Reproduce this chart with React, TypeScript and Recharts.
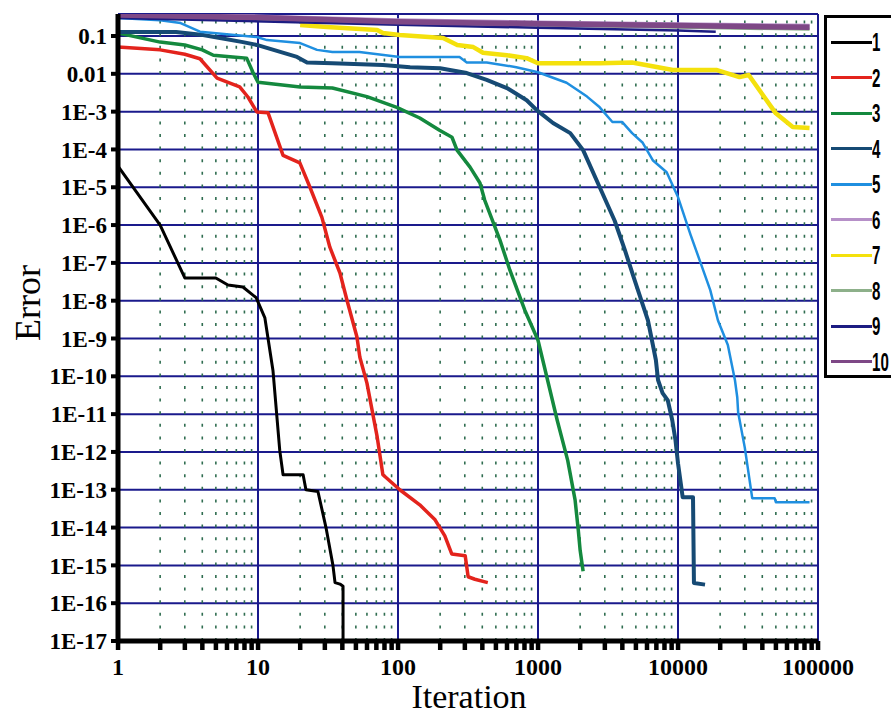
import { LineChart, Line, XAxis, YAxis, CartesianGrid, ReferenceLine, Legend } from 'recharts'

// iteration (x) / error (y) pairs
const it1  = [1, 2, 3, 5, 6.1, 7.8, 9.7, 11.2, 12.8, 14.3, 15.1, 21, 22, 26.8, 30.6, 34.3, 35.5, 38.5, 40.5, 40.5]
const err1 = [3.6e-5, 1e-6, 4e-8, 4e-8, 2.6e-8, 2.3e-8, 1.2e-8, 3.5e-9, 1.4e-10, 1.1e-12, 2.5e-13, 2.5e-13, 1e-13, 9e-14, 1e-14, 1e-15, 3.5e-16, 3.2e-16, 2.8e-16, 1e-17]

const it2  = [1, 2, 3, 3.85, 5.1, 7.4, 8.5, 9.8, 11.8, 15.1, 19.9, 23.5, 28.6, 32.6, 38.5, 43.3, 50.9, 53.4, 60, 71, 78, 103, 143, 184, 216, 242, 302, 317, 354, 438]
const err2 = [0.051, 0.043, 0.033, 0.025, 0.0077, 0.0045, 0.0024, 0.00098, 0.00093, 7e-5, 4.4e-5, 1e-5, 1.6e-6, 2.6e-7, 5.4e-8, 1e-8, 1.1e-9, 3.2e-10, 6.6e-11, 2.5e-12, 2.5e-13, 1e-13, 4e-14, 1.6e-14, 6e-15, 2e-15, 1.8e-15, 5e-16, 4.3e-16, 3.5e-16]

const it3  = [1, 2, 3, 4, 4.8, 6.6, 8.3, 9.2, 10, 20, 34, 60, 98, 143, 198, 243, 264, 327, 385, 416, 535, 630, 805, 1000, 1170, 1370, 1630, 1840, 1940, 2000, 2100]
const err3 = [0.12, 0.069, 0.058, 0.043, 0.031, 0.028, 0.026, 0.011, 0.006, 0.0045, 0.0042, 0.0025, 0.0013, 6.8e-4, 3.2e-4, 2.1e-4, 9.6e-5, 3.4e-5, 1.3e-5, 4.6e-6, 4e-7, 6.4e-8, 5.6e-9, 9e-10, 8e-11, 7e-12, 6e-13, 5.4e-14, 8.5e-15, 2.5e-15, 7e-16]

const it4  = [1, 2.6, 4.05, 5.35, 7.8, 9.8, 19, 22.4, 34, 78, 122, 200, 310, 430, 600, 830, 980, 1280, 1700, 2100, 2760, 3530, 4170, 4900, 6100, 6950, 7200, 7760, 8460, 9100, 9600, 10000, 10800, 12800, 13000, 15600]
const err4 = [0.128, 0.128, 0.106, 0.089, 0.069, 0.058, 0.028, 0.02, 0.019, 0.017, 0.015, 0.014, 0.0105, 0.0069, 0.0042, 0.002, 0.0011, 5e-4, 2.7e-4, 9.6e-5, 1e-5, 1.3e-6, 2.2e-7, 3.5e-8, 3e-9, 2.7e-10, 8e-11, 3.6e-11, 2.3e-11, 6.9e-12, 2e-12, 5e-13, 6.3e-14, 6.3e-14, 3.4e-16, 3.1e-16]

const it5  = [1, 2, 2.8, 3.85, 9.8, 11.6, 20, 26.4, 34, 53, 103, 275, 310, 430, 700, 1000, 1600, 2240, 2760, 3400, 4000, 4700, 5600, 6600, 8300, 10000, 12300, 14500, 17000, 19300, 22700, 25500, 26500, 26900, 30000, 33900, 49000, 50000, 87000]
const err5 = [0.3, 0.26, 0.22, 0.13, 0.094, 0.078, 0.065, 0.043, 0.038, 0.038, 0.028, 0.028, 0.02, 0.02, 0.015, 0.011, 0.0058, 0.0025, 0.0013, 5.3e-4, 5.3e-4, 2.7e-4, 1.5e-4, 5.2e-5, 2.5e-5, 5.5e-6, 5.5e-7, 1e-7, 1.9e-8, 3e-9, 6.7e-10, 8e-11, 2.8e-11, 1.1e-11, 1.3e-12, 6e-14, 6e-14, 4.7e-14, 4.7e-14]

const it6  = [1, 10, 100, 1000, 10000, 87000]
const err6 = [0.37, 0.32, 0.255, 0.22, 0.2, 0.18]

const it7  = [20, 31, 71, 78, 103, 210, 265, 345, 405, 600, 830, 1000, 2760, 4700, 9200, 19000, 27500, 32000, 50000, 66000, 87000]
const err7 = [0.196, 0.173, 0.144, 0.12, 0.106, 0.089, 0.058, 0.051, 0.036, 0.031, 0.026, 0.019, 0.019, 0.02, 0.0126, 0.0126, 0.0082, 0.0093, 9e-4, 3.9e-4, 3.7e-4]

const it8  = [1, 100, 10000, 87000]
const err8 = [0.32, 0.22, 0.17, 0.15]

const it9  = [1, 100, 1000, 10000, 18600]
const err9 = [0.3, 0.2, 0.165, 0.14, 0.13]

const it10  = [1, 10, 100, 1000, 10000, 87000]
const err10 = [0.36, 0.31, 0.24, 0.21, 0.19, 0.17]

const seriesNames  = ['1', '2', '3', '4', '5', '6', '7', '8', '9', '10']
const seriesColors = ['#000000', '#e3231c', '#14893e', '#164a74', '#1f8fe0', '#b690c8', '#f4e10c', '#8db08a', '#1c1c82', '#7e4886']
const seriesWidths = [3, 3.5, 3.5, 4, 2.5, 5, 4.5, 3, 2.5, 5.5]
const seriesIters  = [it1, it2, it3, it4, it5, it6, it7, it8, it9, it10]
const seriesErrs   = [err1, err2, err3, err4, err5, err6, err7, err8, err9, err10]

const xMajor      = [1, 10, 100, 1000, 10000, 100000]
const xTickLabels = ['1', '10', '100', '1000', '10000', '100000']
const xMinor      = [1, 10, 100, 1000, 10000].flatMap(d => [2, 3, 4, 5, 6, 7, 8, 9].map(k => d * k))
const yTicks      = [1e-17, 1e-16, 1e-15, 1e-14, 1e-13, 1e-12, 1e-11, 1e-10, 1e-9, 1e-8, 1e-7, 1e-6, 1e-5, 1e-4, 1e-3, 0.01, 0.1]
const yTickLabels = ['1E-17', '1E-16', '1E-15', '1E-14', '1E-13', '1E-12', '1E-11', '1E-10', '1E-9', '1E-8', '1E-7', '1E-6', '1E-5', '1E-4', '1E-3', '0.01', '0.1']

const series = seriesNames.map((name, i) => ({
  name,
  color: seriesColors[i],
  width: seriesWidths[i],
  data: seriesIters[i].map((x, j) => ({ x, y: seriesErrs[i][j] })),
}))

const NAVY  = '#1a1a8c'
const SERIF = '"Liberation Serif", "Times New Roman", serif'

const XTick = ({ x, y, payload }: any) => {
  const idx = xMajor.indexOf(payload.value)
  return (
    <g>
      <rect x={x - 2.2} y={y} width={4.5} height={9} fill="#000" />
      {idx >= 0 && (
        <text x={x} y={y + 34} textAnchor="middle" fontFamily={SERIF} fontWeight="bold" fontSize={24} fill="#000">
          {xTickLabels[idx]}
        </text>
      )}
    </g>
  )
}

const yFmt = (v: number) => {
  const i = yTicks.findIndex(t => Math.abs(Math.log10(t) - Math.log10(v)) < 0.01)
  return i >= 0 ? yTickLabels[i] : ''
}

const renderLegend = () => (
  <div style={{ position: 'relative', width: 90, height: 363, border: '3px solid #000', boxSizing: 'border-box', background: '#fff' }}>
    {series.map((s, i) => (
      <div key={s.name} style={{ position: 'absolute', left: 4, top: 24 + i * 35.5 - 13, height: 26, display: 'flex', alignItems: 'center' }}>
        <span style={{ display: 'inline-block', width: 41, height: 3, background: s.color }} />
        <span style={{ display: 'inline-block', fontFamily: '"Liberation Sans", Arial, sans-serif', fontWeight: 'bold', fontSize: 26, lineHeight: '26px', transform: 'scaleX(0.58)', transformOrigin: 'left center', color: '#000' }}>
          {s.name}
        </span>
      </div>
    ))}
  </div>
)

export default function App() {
  return (
    <div style={{ position: 'absolute', left: 0, top: 0, width: 891, height: 718, background: '#fff', overflow: 'hidden' }}>
      <LineChart width={891} height={718} margin={{ top: 14, right: 73, bottom: 27, left: 8 }}>
        <CartesianGrid vertical={false} stroke={NAVY} strokeWidth={2} />
        {xMinor.map(v => (
          <ReferenceLine key={'m' + v} x={v} stroke="#2f6d50" strokeWidth={1.6} strokeDasharray="3 9.6" />
        ))}
        {xMajor.slice(1).map(v => (
          <ReferenceLine key={'M' + v} x={v} stroke={NAVY} strokeWidth={2} />
        ))}
        <XAxis
          dataKey="x" type="number" scale="log" domain={[1, 100000]} allowDataOverflow
          ticks={[...xMajor, ...xMinor].sort((a, b) => a - b)} interval={0}
          height={50} tickSize={0} tickMargin={0} tickLine={false}
          axisLine={{ stroke: '#000', strokeWidth: 5 }} tick={<XTick />}
        />
        <YAxis
          dataKey="y" type="number" scale="log" domain={[1e-17, 0.382]} allowDataOverflow
          ticks={yTicks} interval={0} width={110} tickSize={7} tickMargin={4}
          tickFormatter={yFmt}
          tick={{ fontFamily: SERIF, fontWeight: 'bold', fontSize: 23, fill: '#000' }}
          tickLine={{ stroke: '#000', strokeWidth: 4 }}
          axisLine={{ stroke: '#000', strokeWidth: 5 }}
        />
        {series.map(s => (
          <Line
            key={s.name} data={s.data} dataKey="y" name={s.name} type="linear"
            stroke={s.color} strokeWidth={s.width} dot={false} isAnimationActive={false}
            strokeLinejoin="round"
          />
        ))}
        <Legend
          layout="horizontal" verticalAlign="middle" align="center"
          wrapperStyle={{ left: 824, top: 15, width: 90, height: 363 }}
          content={renderLegend}
        />
      </LineChart>
      <div style={{ position: 'absolute', left: 28, top: 303, transform: 'translate(-50%, -50%) rotate(-90deg)', fontFamily: SERIF, fontSize: 36, lineHeight: '36px', whiteSpace: 'nowrap', color: '#000' }}>
        Error
      </div>
      <div style={{ position: 'absolute', left: 469, top: 697, transform: 'translate(-50%, -50%)', fontFamily: SERIF, fontSize: 34, lineHeight: '34px', whiteSpace: 'nowrap', color: '#000' }}>
        Iteration
      </div>
    </div>
  )
}
